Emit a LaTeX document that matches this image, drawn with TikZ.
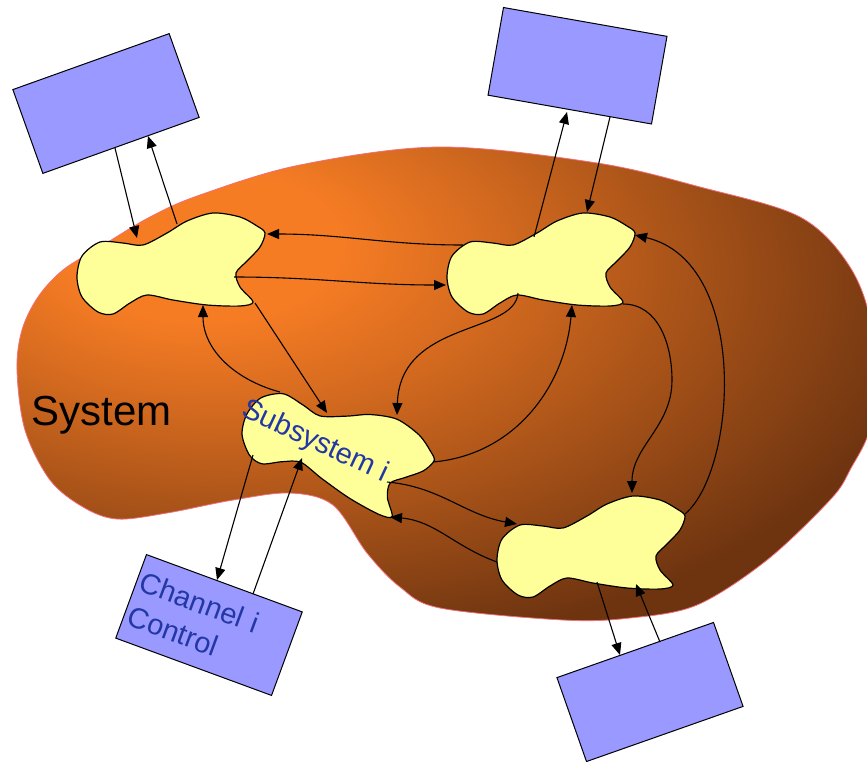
\documentclass[tikz,border=0pt]{standalone}
\usepackage{fontspec}
\setmainfont{Liberation Sans}
\usetikzlibrary{arrows.meta}

\definecolor{sysorange}{RGB}{246,124,36}
\definecolor{sysmid}{RGB}{212,106,31}
\definecolor{sysbrown}{RGB}{110,52,16}
\definecolor{sysedge}{RGB}{242,110,120}
\definecolor{blobyellow}{RGB}{255,255,153}
\definecolor{boxblue}{RGB}{153,153,255}
\definecolor{labelblue}{RGB}{35,55,165}

\pgfdeclareradialshading{sysshade}{\pgfpoint{-15.5bp}{16bp}}{color(0bp)=(sysorange); color(8bp)=(sysorange); color(16bp)=(sysmid); color(38bp)=(sysbrown); color(100bp)=(sysbrown)}

\newcommand{\systemoutline}{plot[smooth cycle, tension=0.55] coordinates {
  (17,-370) (22,-330) (38,-297) (63,-270) (100,-247) (150,-217) (200,-195)
  (300,-165) (440,-147) (597,-163) (700,-187) (800,-217) (850,-267)
  (872,-330) (872,-420) (850,-470) (830,-500) (767,-560) (697,-605)
  (630,-618) (563,-620) (440,-608) (400,-587) (367,-553) (333,-505)
  (290,-493) (233,-500) (167,-513) (117,-519) (83,-507) (50,-480) (25,-430)}}

\begin{document}
\begin{tikzpicture}[x=1pt,y=1pt,>={Triangle[length=12pt,width=10pt]},
  link/.style={->,line width=1.1pt},
  ctrl box/.style={rectangle,draw,fill=boxblue,line width=1pt,inner sep=0pt,
    minimum width=166pt,minimum height=89pt},
  blob line/.style={draw,fill=blobyellow,line width=1.2pt},
  blob/.pic={\path[blob line] plot[smooth cycle,tension=0.5] coordinates {
    (-93,-12) (-88,9) (-70,23) (-47,22) (-27,20) (-3,32) (17,44) (43,52)
    (70,48) (87,39) (95,32) (90,18) (77,4) (66,-8) (70,-22) (83,-37)
    (70,-41) (37,-40) (3,-35) (-23,-30) (-40,-38) (-57,-49) (-72,-47) (-88,-32)};}]

  \useasboundingbox (0,-761) rectangle (867,0);

  % the system
  \shade[shading=sysshade] \systemoutline;
  \draw[sysedge,line width=0.8pt] \systemoutline;

  % subsystems
  \pic (tl) at (170,-265) {blob};
  \pic (tr) at (540,-265) {blob};
  \pic (br) at (590,-548) {blob};
  \pic[rotate=-27] (sub) at (335,-446) {blob};

  % channel controls
  \node[ctrl box,rotate=19.7] (tlbox) at (106,-103.5) {};
  \node[ctrl box,rotate=-10] (trbox) at (577.5,-65.75) {};
  \node[ctrl box,rotate=19.4] (brbox) at (650,-692) {};
  \node[ctrl box,rotate=-20.2,text=labelblue,font=\fontsize{29}{36}\selectfont,
    text width=157pt,inner xsep=4.5pt,align=left] (chbox) at (209,-625) {Channel i\\Control};

  \node[anchor=base west,font=\fontsize{42}{50}\selectfont] (systemlabel) at (28,-425) {System};
  \node[rotate=-25,text=labelblue,font=\fontsize{29}{34}\selectfont] (sublabel) at (315,-442) {Subsystem i};

  % end points
  \coordinate (tlb-out) at (115,-148);
  \coordinate (tl-in) at (137,-238);
  \coordinate (tl-out) at (177,-224);
  \coordinate (tlb-in) at (148,-136);
  \coordinate (tr-out) at (534,-237);
  \coordinate (trb-in) at (567,-112);
  \coordinate (trb-out) at (610,-117);
  \coordinate (tr-in) at (587,-212);
  \coordinate (br-out) at (597,-582);
  \coordinate (brb-in) at (620,-655);
  \coordinate (brb-out) at (660,-642);
  \coordinate (br-in) at (636,-584);
  \coordinate (sub-down) at (253,-455);
  \coordinate (chb-in) at (217,-580);
  \coordinate (chb-out) at (253,-594);
  \coordinate (sub-up) at (302,-458);
  \coordinate (tr-w1) at (463,-245);
  \coordinate (tl-ne) at (267,-234);
  \coordinate (tl-notch) at (234,-277);
  \coordinate (tr-w) at (446,-285);
  \coordinate (tl-se) at (255,-303);
  \coordinate (sub-n) at (327,-413);
  \coordinate (sub-nw) at (280,-392);
  \coordinate (tl-s) at (203,-305);
  \coordinate (sub-e) at (433,-462);
  \coordinate (tr-s) at (572,-305);
  \coordinate (tr-sw) at (518,-293);
  \coordinate (sub-ne) at (397,-415);
  \coordinate (sub-notch) at (387,-482);
  \coordinate (br-nw) at (517,-524);
  \coordinate (br-w) at (497,-562);
  \coordinate (sub-se) at (390,-517);
  \coordinate (tr-se) at (623,-304);
  \coordinate (br-n) at (632,-493);
  \coordinate (br-ne) at (685,-514);
  \coordinate (tr-ne) at (635,-235);

  % to and from the controls
  \draw[link] (tlb-out) -- (tl-in);
  \draw[link] (tl-out) -- (tlb-in);
  \draw[link] (tr-out) -- (trb-in);
  \draw[link] (trb-out) -- (tr-in);
  \draw[link] (br-out) -- (brb-in);
  \draw[link] (brb-out) -- (br-in);
  \draw[link] (sub-down) -- (chb-in);
  \draw[link] (chb-out) -- (sub-up);

  % between the subsystems
  \draw[link] (tr-w1) to[out=180,in=0] (tl-ne);
  \draw[link] (tl-notch) to[out=0,in=180] (tr-w);
  \draw[link] (tl-se) -- (sub-n);
  \draw[link] (sub-nw) to[out=165,in=-90] (tl-s);
  \draw[link] (sub-e) to[out=5,in=-95] (tr-s);
  \draw[link] (tr-sw) .. controls +(-3,-42) and +(3,95) .. (sub-ne);
  \draw[link] (sub-notch) to[out=-5,in=170] (br-nw);
  \draw[link] (br-w) to[out=160,in=-5] (sub-se);
  \draw[link] (tr-se) to[out=0,in=90] ++(49,-76) to[out=-90,in=90] (br-n);
  \draw[link] (br-ne) .. controls +(52,44) and +(115,-27) .. (tr-ne);
\end{tikzpicture}
\end{document}
